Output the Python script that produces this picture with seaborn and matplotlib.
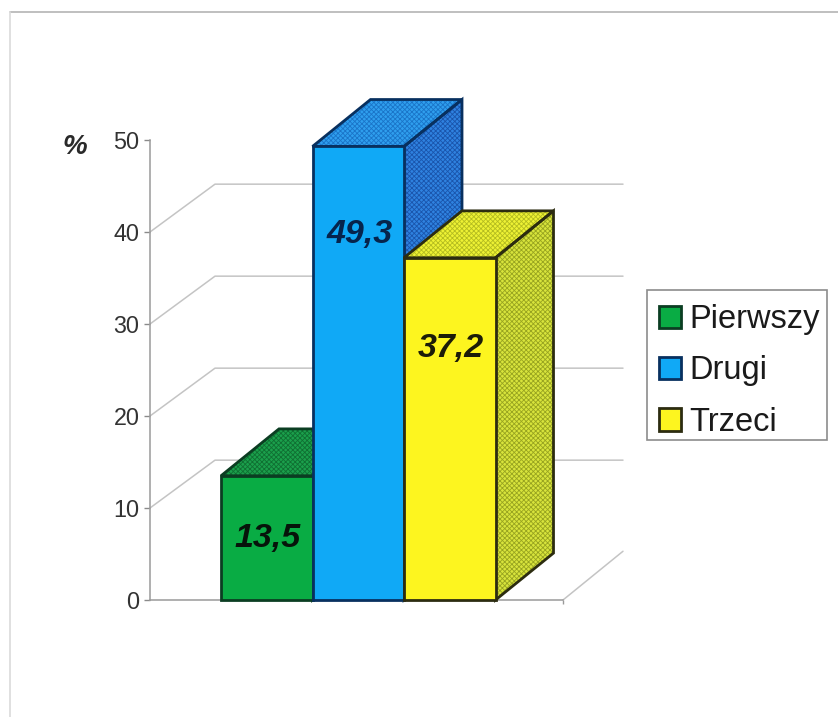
import matplotlib
matplotlib.use("Agg")
import matplotlib.pyplot as plt
from matplotlib.lines import Line2D
from matplotlib.patches import Polygon, Patch, Rectangle
import seaborn as sns

categories = ["Pierwszy", "Drugi", "Trzeci"]
values = [13.5, 49.3, 37.2]
value_labels = ["13,5", "49,3", "37,2"]
label_levels = [6.7, 39.7, 27.3]
y_ticks = [0, 10, 20, 30, 40, 50]

front_colors = ["#09ac44", "#10a9f6", "#fdf51f"]
edge_colors = ["#0b3d22", "#08305f", "#2c2c10"]
top_colors = ["#1ba04c", "#2f9fee", "#eef234"]
side_colors = ["#16903f", "#2f82e0", "#d8e43c"]
top_hatch = ["#0f6f32", "#1a74c8", "#b4bc20"]
side_hatch = ["#0f6f32", "#1a55ac", "#98a420"]
label_colors = ["#06140a", "#06244c", "#1c1c08"]

sns.set_theme(style="white")
plt.rcParams["font.family"] = ["Liberation Sans", "DejaVu Sans"]
plt.rcParams["hatch.linewidth"] = 0.6

W, H = 838, 717
fig = plt.figure(figsize=(W / 100, H / 100), dpi=100, facecolor="white")
ax = fig.add_axes([150 / W, (H - 600) / H, (563 - 150) / W, 460 / H])

sns.barplot(x=categories, y=values, hue=categories, palette=front_colors,
            width=1.0, dodge=False, legend=False, ax=ax, saturation=1)

px_x = 91.5
x0 = -0.5 - 71 / px_x
x1 = x0 + 413 / px_x
ax.set_xlim(x0, x1)
ax.set_ylim(0, 50)

# depth offsets of the pseudo-3D projection, in data units
wall_dx_l, wall_dx_r, wall_dy = 65 / px_x, 60 / px_x, 5.2
bar_dx, bar_dy = 58 / px_x, 5.1

# back wall gridlines with their diagonal connectors
grid_c = "#c4c4c4"
for t in y_ticks[:-1]:
    if t:
        ax.plot([x0, x0 + wall_dx_l, x1 + wall_dx_r], [t, t + wall_dy, t + wall_dy],
                color=grid_c, lw=1.1, zorder=1, clip_on=False)
    else:
        ax.plot([x1, x1 + wall_dx_r], [0, wall_dy + 0.1],
                color=grid_c, lw=1.1, zorder=1, clip_on=False)

for i, (v, bar) in enumerate(zip(values, ax.patches)):
    z = 3 + i * 3
    xl, xr = i - 0.5, i + 0.5
    top = [(xl, v), (xr, v), (xr + bar_dx, v + bar_dy), (xl + bar_dx, v + bar_dy)]
    side = [(xr, 0), (xr + bar_dx, bar_dy), (xr + bar_dx, v + bar_dy), (xr, v)]
    for pts, fc, hc in ((top, top_colors[i], top_hatch[i]), (side, side_colors[i], side_hatch[i])):
        ax.add_patch(Polygon(pts, closed=True, facecolor=fc, edgecolor=hc,
                             hatch="xxxxxxx", lw=0, zorder=z, clip_on=False))
        ax.add_patch(Polygon(pts, closed=True, facecolor="none", edgecolor=edge_colors[i],
                             lw=2.0, joinstyle="miter", zorder=z + 0.5, clip_on=False))
    bar.set_edgecolor(edge_colors[i])
    bar.set_linewidth(2.0)
    bar.set_zorder(z + 1)
    bar.set_clip_on(False)
    ax.text(i + 0.01, label_levels[i], value_labels[i],
            ha="center", va="center", fontsize=24.5, fontweight="bold", fontstyle="italic",
            color=label_colors[i], zorder=20)

for s in ("top", "right"):
    ax.spines[s].set_visible(False)
for s in ("left", "bottom"):
    ax.spines[s].set_color("#9a9a9a")
    ax.spines[s].set_linewidth(1.1)
ax.spines["bottom"].set_zorder(2)
ax.set_yticks(y_ticks)
ax.set_xticks([x1])
ax.set_xticklabels([""])
ax.tick_params(axis="y", left=True, length=4.5, width=1.0, color="#8a8a8a",
               labelsize=16.8, labelcolor="#333333", pad=3)
ax.tick_params(axis="x", bottom=True, length=3, width=1.0, color="#9a9a9a")
ax.set_xlabel("")
ax.set_ylabel("")

fig.text(75 / W, 1 - 147 / H, "%", fontsize=20, fontstyle="italic", fontweight="bold",
         color="#2a2a2a", ha="center", va="center")

# outer chart frame
fig.add_artist(Line2D([10 / W, 1], [1 - 12 / H, 1 - 12 / H], color="#b4b4b4", lw=1.2,
                      transform=fig.transFigure))
fig.add_artist(Line2D([10 / W, 10 / W], [0, 1 - 12 / H], color="#dadada", lw=1.2,
                      transform=fig.transFigure))

# legend box and entries
fig.add_artist(Rectangle((647 / W, 1 - 440 / H), 180 / W, 150 / H, facecolor="white",
                         edgecolor="#8c8c8c", lw=1.2, transform=fig.transFigure, zorder=30))
handles = [Patch(facecolor=f, edgecolor=e, lw=2.0) for f, e in zip(front_colors, edge_colors)]
leg = fig.legend(handles, categories, loc="center left",
                 bbox_to_anchor=(659 / W, 1 - 371 / H), bbox_transform=fig.transFigure,
                 fontsize=23.5, frameon=False, handlelength=0.68, handleheight=0.68,
                 handletextpad=0.26, labelspacing=0.62, borderpad=0, borderaxespad=0)
leg.set_zorder(31)
for t in leg.get_texts():
    t.set_color("#1a1a1a")

fig.savefig("out.png", dpi=100)
